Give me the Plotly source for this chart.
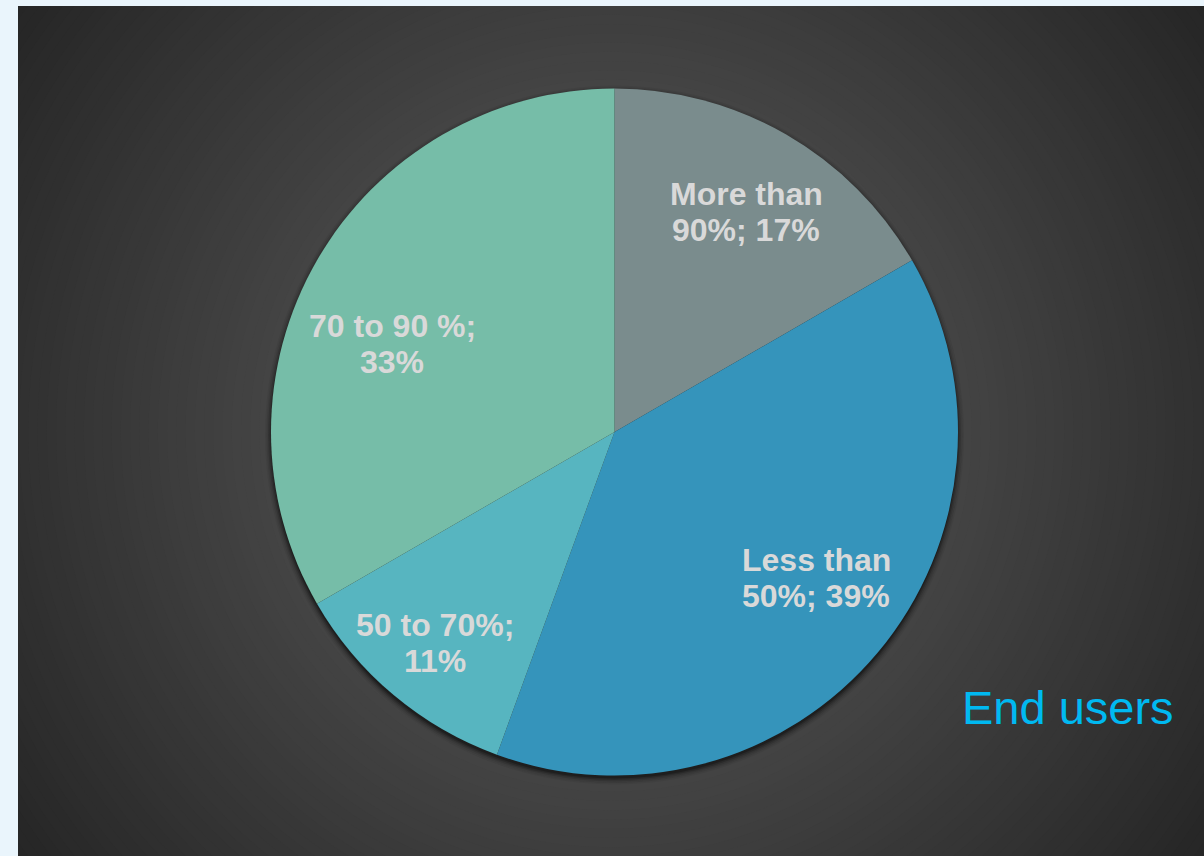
import plotly.graph_objects as go

# ---- data ----
categories = ["More than 90%", "Less than 50%", "50 to 70%", "70 to 90 %"]
label_line1 = ["More than", "Less than", "50 to 70%;", "70 to 90 %;"]
label_line2 = ["90%;", "50%;", "", ""]
shares = [16.67, 38.89, 11.11, 33.33]
slice_colors = ["#7A8C8D", "#3594BB", "#57B5C0", "#76BDA8"]
chart_tag = "End users"

# ---- layout helpers (pixel geometry) ----
W, H = 1204, 856
PANEL_X0, PANEL_Y0 = 18, 6
PW, PH = W - PANEL_X0, H - PANEL_Y0
PIE_CX, PIE_CY, PIE_R = 614.5, 432, 343.5
LINE_GAP = 36

def px2paper(x, y):
    return x / W, 1 - y / H

# label block centres (pixels)
label_pos = [(746, 212), (816, 578), (435, 643), (392, 344)]

shapes = []
# radial background gradient (decoration)
gcx, gcy = PW / 2, PH / 2
def grad_level(r):
    if r <= 350:
        return 78 - 10 * r / 350
    return max(38, 68 - 30 * (r - 350) / 380)

rmax = 740
n = 80
for i in range(n + 1):
    r = rmax * (1 - i / n)
    v = int(round(grad_level(r)))
    c = f"rgb({v},{v},{v})"
    shapes.append(dict(type="circle", xref="x", yref="y", layer="below",
                       x0=gcx - r, x1=gcx + r, y0=gcy - r, y1=gcy + r,
                       fillcolor=c, line=dict(width=0)))

# pie drop shadow
pcx, pcy = PIE_CX - PANEL_X0, H - PIE_CY
for dr, a in [(6, 0.05), (4.5, 0.08), (3, 0.12), (1.5, 0.18), (0, 0.25)]:
    off = 3
    r = PIE_R + dr
    shapes.append(dict(type="circle", xref="x", yref="y", layer="below",
                       x0=pcx - r, x1=pcx + r, y0=pcy - off - r, y1=pcy - off + r,
                       fillcolor=f"rgba(0,0,0,{a})", line=dict(width=0)))

fig = go.Figure()
fig.add_trace(go.Scatter(x=[], y=[], showlegend=False, hoverinfo="skip"))

x0, y1 = px2paper(PIE_CX - PIE_R, PIE_CY - PIE_R)
x1, y0 = px2paper(PIE_CX + PIE_R, PIE_CY + PIE_R)
fig.add_trace(go.Pie(
    labels=categories, values=shares, sort=False, direction="clockwise",
    rotation=0, marker=dict(colors=slice_colors, line=dict(width=0)),
    textinfo="none", hoverinfo="label+percent", showlegend=False,
    domain=dict(x=[x0, x1], y=[y0, y1]),
))

LABEL_FONT = dict(family="Liberation Sans, Arial, sans-serif", size=32, color="#D9D9D9")
annotations = []
for l1, l2, v, (lx, ly) in zip(label_line1, label_line2, shares, label_pos):
    pct = round(v)
    second = f"{l2} {pct}%" if l2 else f"{pct}%"
    for txt, yy in [(l1, ly - LINE_GAP / 2), (second, ly + LINE_GAP / 2)]:
        ax, ay = px2paper(lx, yy)
        annotations.append(dict(
            x=ax, y=ay, xref="paper", yref="paper", showarrow=False,
            xanchor="center", yanchor="middle", align="center",
            text=f"<b>{txt}</b>", font=LABEL_FONT,
        ))
tx, ty = px2paper(1068, 707)
annotations.append(dict(
    x=tx, y=ty, xref="paper", yref="paper", showarrow=False,
    xanchor="center", yanchor="middle", text=chart_tag,
    font=dict(family="Liberation Sans, Arial, sans-serif", size=47, color="#00B9F1"),
))

fig.update_layout(
    width=W, height=H,
    margin=dict(l=0, r=0, t=0, b=0),
    paper_bgcolor="#EAF5FC",
    plot_bgcolor="#262626",
    xaxis=dict(domain=[PANEL_X0 / W, 1], range=[0, PW], visible=False, fixedrange=True),
    yaxis=dict(domain=[0, PH / H], range=[0, PH], visible=False, fixedrange=True),
    shapes=shapes,
    annotations=annotations,
    showlegend=False,
)

fig.write_html(
    "out.html",
    config={"displayModeBar": False},
    post_script="document.body.style.margin='0px';document.body.style.background='#EAF5FC';document.body.style.overflow='hidden';",
)
